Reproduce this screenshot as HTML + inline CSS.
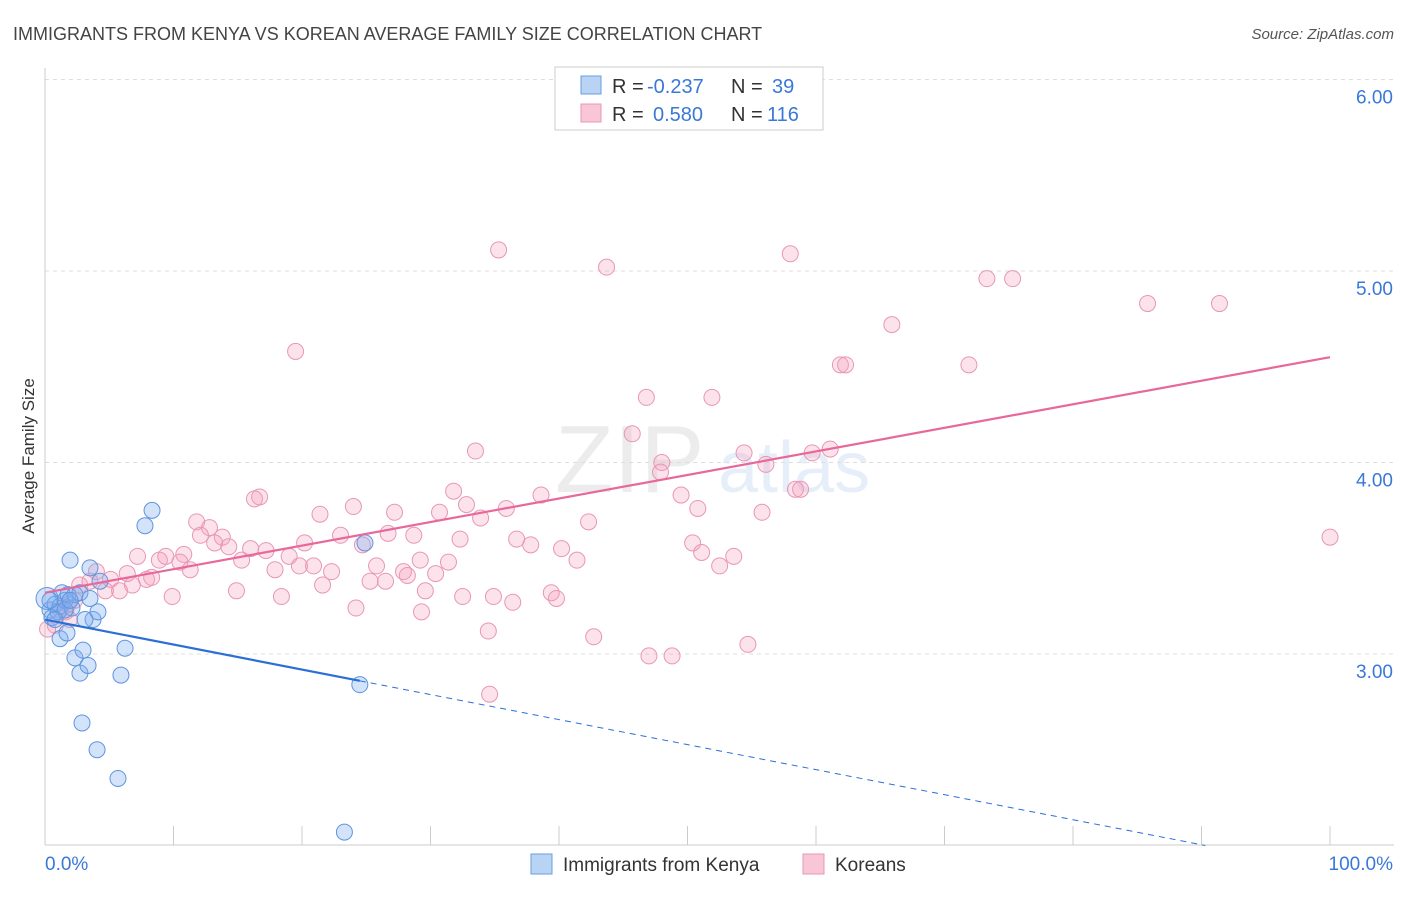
<!DOCTYPE html>
<html><head><meta charset="utf-8"><style>
body{margin:0;background:#fff;font-family:"Liberation Sans",sans-serif;}
svg text{font-family:"Liberation Sans",sans-serif;}
</style></head><body>
<svg id="chart" width="1406" height="892" xmlns="http://www.w3.org/2000/svg">
<text x="13" y="40" font-size="18" fill="#444">IMMIGRANTS FROM KENYA VS KOREAN AVERAGE FAMILY SIZE CORRELATION CHART</text>
<text x="1394" y="39" font-size="15" fill="#555" text-anchor="end" font-style="italic">Source: ZipAtlas.com</text>
<g opacity="0.18">
<text x="555" y="492" font-size="96" font-family="Liberation Serif" fill="#999">ZIP</text>
<text x="718" y="492" font-size="72" fill="#7aa7e0">atlas</text>
</g>
<g id="grid"></g>
<g id="axes"></g>
<g id="marks"></g>
<text transform="translate(34,456) rotate(-90)" font-size="17" fill="#333" text-anchor="middle">Average Family Size</text>
<g font-size="20">
<rect x="555" y="67" width="268" height="63" fill="#fff" stroke="#ccc"/>
<rect x="581" y="76" width="20" height="18" fill="#b9d3f5" stroke="#6a9ee0"/>
<rect x="581" y="104" width="20" height="18" fill="#f9c6d6" stroke="#e897b5"/>
<text x="612" y="93" fill="#333">R =</text>
<text x="647" y="93" fill="#3a78d8">-0.237</text>
<text x="731" y="93" fill="#333">N =</text>
<text x="772" y="93" fill="#3a78d8">39</text>
<text x="612" y="121" fill="#333">R =</text>
<text x="653" y="121" fill="#3a78d8">0.580</text>
<text x="731" y="121" fill="#333">N =</text>
<text x="767" y="121" fill="#3a78d8">116</text>
</g>
<g>
<rect x="531" y="854" width="21" height="20" fill="#b9d3f5" stroke="#6a9ee0"/>
<text x="563" y="871" font-size="19" fill="#333">Immigrants from Kenya</text>
<rect x="803" y="854" width="21" height="20" fill="#f9c6d6" stroke="#e897b5"/>
<text x="835" y="871" font-size="19" fill="#333">Koreans</text>
</g>
</svg>
<script>
const yTicks=[3,4,5,6];
const yTickLabels=["3.00","4.00","5.00","6.00"];
const xTickLabels=["0.0%","100.0%"];
const kenyaX=[0.16,0.39,0.78,1.17,0.54,1.01,1.32,1.56,1.79,1.95,2.10,1.17,1.71,2.33,2.72,2.96,3.35,2.88,4.05,5.68,3.50,3.74,4.12,3.11,6.23,5.91,7.78,8.33,24.9,24.5,23.3,2.33,2.72,1.56,0.78,0.39,3.50,4.28,1.95];
const kenyaY=[3.29,3.23,3.26,3.25,3.19,3.22,3.32,3.28,3.31,3.49,3.24,3.08,3.11,2.98,2.90,3.02,2.94,2.64,2.50,2.35,3.45,3.18,3.22,3.18,3.03,2.89,3.67,3.75,3.58,2.84,2.07,3.31,3.32,3.23,3.18,3.28,3.29,3.38,3.28];
const koreaX=[35.3,43.7,58.0,73.3,75.3,85.8,91.4,19.5,65.9,61.9,62.3,71.9,46.8,51.9,45.7,33.5,54.4,59.7,61.1,48.0,47.9,56.1,58.4,58.8,49.5,50.8,55.8,100,31.8,38.6,16.7,16.3,24.0,21.4,27.2,30.7,32.8,33.9,35.9,42.3,11.8,12.8,12.1,13.8,14.3,13.2,16.0,17.2,20.2,23.0,24.7,26.7,28.7,32.3,36.7,37.8,40.2,41.4,50.4,51.1,53.6,52.5,7.2,8.9,9.4,10.8,10.5,11.3,15.3,17.9,19.0,19.8,20.9,22.3,25.8,27.9,29.2,31.4,30.4,4.0,5.1,6.4,7.9,8.3,6.8,5.8,4.7,2.7,3.5,9.9,14.9,18.4,21.6,25.3,26.5,28.2,29.6,32.5,34.9,39.4,39.8,36.4,24.2,29.3,34.5,42.7,47.0,48.8,54.7,34.6,1.2,1.6,0.8,0.2,2.3,1.9,1.8];
const koreaY=[5.11,5.02,5.09,4.96,4.96,4.83,4.83,4.58,4.72,4.51,4.51,4.51,4.34,4.34,4.15,4.06,4.05,4.05,4.07,4.00,3.95,3.99,3.86,3.86,3.83,3.76,3.74,3.61,3.85,3.83,3.82,3.81,3.77,3.73,3.74,3.74,3.78,3.71,3.76,3.69,3.69,3.66,3.62,3.61,3.56,3.58,3.55,3.54,3.58,3.62,3.57,3.63,3.62,3.60,3.60,3.57,3.55,3.49,3.58,3.53,3.51,3.46,3.51,3.49,3.51,3.52,3.48,3.44,3.49,3.44,3.51,3.46,3.46,3.43,3.46,3.43,3.49,3.48,3.42,3.43,3.39,3.42,3.39,3.40,3.36,3.33,3.33,3.36,3.38,3.30,3.33,3.30,3.36,3.38,3.38,3.41,3.33,3.30,3.30,3.32,3.29,3.27,3.24,3.22,3.12,3.09,2.99,2.99,3.05,2.79,3.23,3.22,3.15,3.13,3.28,3.18,3.26];
const koreaTrendX=[0,100];
const koreaTrendY=[3.32,4.55];
const kenyaTrendX=[0,24.5];
const kenyaTrendY=[3.18,2.86];
const kenyaDashX=[24.5,90.3];
const kenyaDashY=[2.86,2.00];

const X0=45,X1=1330,YB=654,YS=191.5;
const sx=v=>X0+(X1-X0)*v/100;
const sy=v=>YB-(v-3)*YS;
const NS="http://www.w3.org/2000/svg";
function mk(parent,tag,attrs){const e=document.createElementNS(NS,tag);for(const k in attrs)e.setAttribute(k,attrs[k]);parent.appendChild(e);return e;}
const grid=document.getElementById('grid'),axes=document.getElementById('axes'),marks=document.getElementById('marks');
yTicks.forEach((t,i)=>{
  const l=mk(grid,'line',{x1:X0,x2:1394,y1:sy(t),y2:sy(t),stroke:'#ddd','stroke-dasharray':'4,4'});
  
  
  const tx=mk(axes,'text',{x:1393,y:sy(t)+24,'font-size':19,fill:'#3a78d8','text-anchor':'end'});
  tx.textContent=yTickLabels[i];
  
  
});
const ax=mk(axes,'line',{x1:X0,x2:1394,y1:845,y2:845,stroke:'#ccc'});


const ay=mk(axes,'line',{x1:X0,x2:X0,y1:68,y2:845,stroke:'#ccc'});


for(let i=0;i<=10;i++){
  const t=mk(axes,'line',{x1:sx(i*10),x2:sx(i*10),y1:826,y2:845,stroke:'#ccc'});
  
  
}
const xl0=mk(axes,'text',{x:45,y:870,'font-size':19,fill:'#3a78d8'});xl0.textContent=xTickLabels[0];


const xl1=mk(axes,'text',{x:1393,y:870,'font-size':19,fill:'#3a78d8','text-anchor':'end'});xl1.textContent=xTickLabels[1];



koreaX.forEach((v,i)=>{
  const c=mk(marks,'circle',{cx:sx(v),cy:sy(koreaY[i]),r:8,fill:'rgba(244,160,190,0.3)',stroke:'#e897b5','stroke-width':1});
  
  
});
kenyaX.forEach((v,i)=>{
  const c=mk(marks,'circle',{cx:sx(v),cy:sy(kenyaY[i]),r:(i==0?11:8),fill:'rgba(130,175,240,0.35)',stroke:'#5f95dd','stroke-width':1});
  
  
});
const pt=mk(marks,'line',{x1:sx(koreaTrendX[0]),y1:sy(koreaTrendY[0]),x2:sx(koreaTrendX[1]),y2:sy(koreaTrendY[1]),stroke:'#e8689a','stroke-width':2.2});


const bt=mk(marks,'line',{x1:sx(kenyaTrendX[0]),y1:sy(kenyaTrendY[0]),x2:sx(kenyaTrendX[1]),y2:sy(kenyaTrendY[1]),stroke:'#2b6fd6','stroke-width':2.2});


const bd=mk(marks,'line',{x1:sx(kenyaDashX[0]),y1:sy(kenyaDashY[0]),x2:sx(kenyaDashX[1]),y2:sy(kenyaDashY[1]),stroke:'#2b6fd6','stroke-width':1,'stroke-dasharray':'6,5'});


</script>
</body></html>
